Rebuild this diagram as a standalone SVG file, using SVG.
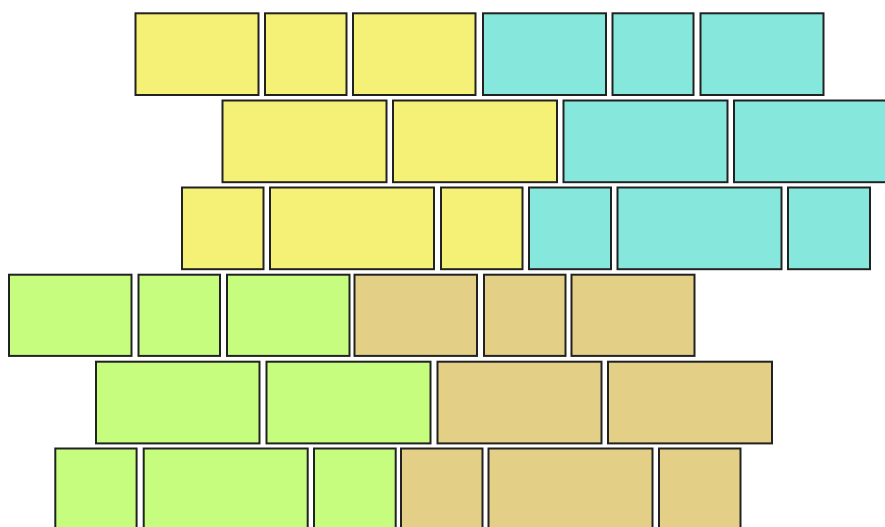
<svg xmlns="http://www.w3.org/2000/svg" width="885" height="527" viewBox="0 0 885 527">
<style>
.b{stroke:#222222;stroke-width:2}
.y{fill:#f5f076}.c{fill:#86e8dc}.g{fill:#c6fd7e}.n{fill:#e3cf86}
</style>
<rect width="885" height="527" fill="#ffffff"/>
<g id="row1">
<rect class="b y" x="135.5" y="13.3" width="123" height="81.7"/>
<rect class="b y" x="265" y="13.3" width="81.5" height="81.7"/>
<rect class="b y" x="353" y="13.3" width="122.5" height="81.7"/>
<rect class="b c" x="483" y="13.3" width="123" height="81.7"/>
<rect class="b c" x="612.5" y="13.3" width="81" height="81.7"/>
<rect class="b c" x="700.5" y="13.3" width="123" height="81.7"/>
</g>
<g id="row2">
<rect class="b y" x="222.5" y="100.5" width="164" height="81.7"/>
<rect class="b y" x="393" y="100.5" width="164" height="81.7"/>
<rect class="b c" x="563.5" y="100.5" width="164" height="81.7"/>
<rect class="b c" x="734" y="100.5" width="164" height="81.7"/>
</g>
<g id="row3">
<rect class="b y" x="182" y="187.5" width="81.5" height="81.7"/>
<rect class="b y" x="270" y="187.5" width="164" height="81.7"/>
<rect class="b y" x="441" y="187.5" width="81.5" height="81.7"/>
<rect class="b c" x="529" y="187.5" width="82" height="81.7"/>
<rect class="b c" x="617.5" y="187.5" width="164" height="81.7"/>
<rect class="b c" x="788" y="187.5" width="82" height="81.7"/>
</g>
<g id="row4">
<rect class="b g" x="9" y="274.7" width="122.5" height="81.2"/>
<rect class="b g" x="138.5" y="274.7" width="81.5" height="81.2"/>
<rect class="b g" x="227" y="274.7" width="122.5" height="81.2"/>
<rect class="b n" x="354.5" y="274.7" width="122.5" height="81.2"/>
<rect class="b n" x="484" y="274.7" width="81.5" height="81.2"/>
<rect class="b n" x="571.5" y="274.7" width="123" height="81.2"/>
</g>
<g id="row5">
<rect class="b g" x="96" y="361.7" width="163.5" height="81.7"/>
<rect class="b g" x="266.5" y="361.7" width="164" height="81.7"/>
<rect class="b n" x="437.5" y="361.7" width="164" height="81.7"/>
<rect class="b n" x="608" y="361.7" width="164" height="81.7"/>
</g>
<g id="row6">
<rect class="b g" x="55.3" y="448.5" width="81.3" height="81.7"/>
<rect class="b g" x="143.7" y="448.5" width="164" height="81.7"/>
<rect class="b g" x="314" y="448.5" width="81.7" height="81.7"/>
<rect class="b n" x="401" y="448.5" width="81.5" height="81.7"/>
<rect class="b n" x="488.5" y="448.5" width="164" height="81.7"/>
<rect class="b n" x="659" y="448.5" width="81.5" height="81.7"/>
</g>
</svg>
